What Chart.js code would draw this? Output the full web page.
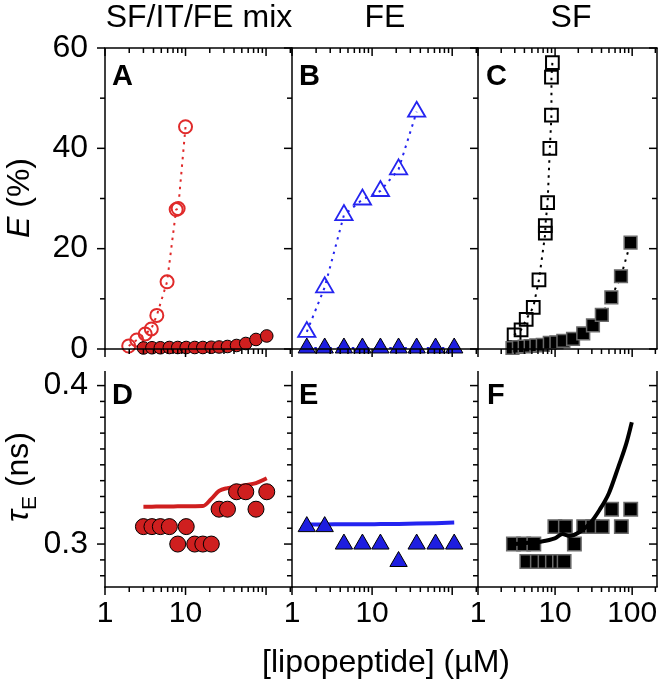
<!DOCTYPE html>
<html>
<head>
<meta charset="utf-8">
<script src="https://cdn.jsdelivr.net/npm/chart.js@4.4.1/dist/chart.umd.min.js"></script>
<style>
  body { margin: 0; background: #fff; }
  #wrap { position: relative; width: 668px; height: 680px; font-family: "Liberation Sans", Arial, sans-serif; color: #000; }
  #wrap canvas { position: absolute; left: 0; top: 0; }
  .t { position: absolute; white-space: nowrap; line-height: 1; }
  .rot { transform: translate(-50%, -50%) rotate(-90deg); }
  .ctr { transform: translateX(-50%); }
  .lbl { font-weight: bold; font-size: 29px; }
</style>
</head>
<body>
<div id="wrap">
  <canvas id="cA" width="668" height="680"></canvas>
  <canvas id="cB" width="668" height="680"></canvas>
  <canvas id="cC" width="668" height="680"></canvas>
  <canvas id="cD" width="668" height="680"></canvas>
  <canvas id="cE" width="668" height="680"></canvas>
  <canvas id="cF" width="668" height="680"></canvas>

  <div class="t ctr" style="left:199px;top:0px;font-size:32px">SF/IT/FE mix</div>
  <div class="t ctr" style="left:385px;top:0px;font-size:32px">FE</div>
  <div class="t ctr" style="left:571px;top:0px;font-size:32px">SF</div>

  <div class="t rot" style="left:18px;top:198px;font-size:32px"><i>E</i> (%)</div>
  <div class="t rot" style="left:20px;top:477px;font-size:32px"><i>τ</i><sub style="font-size:21px">E</sub> (ns)</div>
  <div class="t ctr" style="left:386px;top:645px;font-size:32px">[lipopeptide] (µM)</div>

  <div class="t lbl" style="left:112px;top:61px">A</div>
  <div class="t lbl" style="left:299px;top:61px">B</div>
  <div class="t lbl" style="left:486px;top:61px">C</div>
  <div class="t lbl" style="left:112px;top:380px">D</div>
  <div class="t lbl" style="left:299px;top:380px">E</div>
  <div class="t lbl" style="left:487px;top:380px">F</div>
</div>

<script>
// ---- data ----
// SF/IT/FE mix (panels A, D)
const mixOpenConc = [1.97, 2.48, 3.16, 3.76, 4.4, 5.9, 7.65, 8.1, 10.0];
const mixOpenE = [0.6, 1.8, 3.0, 4.0, 6.7, 13.4, 27.8, 28.0, 44.3];
const mixConc = [3.0, 3.83, 4.87, 6.3, 8.0, 10.2, 13.0, 16.4, 20.9, 26.1, 33.2, 43, 56, 75, 102];
const mixE = [0.2, 0.25, 0.25, 0.3, 0.3, 0.3, 0.3, 0.3, 0.35, 0.4, 0.5, 0.7, 1.1, 1.9, 2.6];
const mixTau = [0.311, 0.311, 0.311, 0.311, 0.300, 0.311, 0.300, 0.300, 0.300, 0.322, 0.322, 0.333, 0.333, 0.322, 0.333];
const mixTauFit = [0.3236, 0.3236, 0.3237, 0.3237, 0.3238, 0.3238, 0.3239, 0.324, 0.3285, 0.3335, 0.3353, 0.3363, 0.3372, 0.3385, 0.3415];

// FE (panels B, E)
const feConc = [1.53, 2.56, 4.45, 7.57, 12.7, 21.4, 36, 62, 106];
const feOpenE = [3.4, 12.3, 26.7, 29.8, 31.5, 35.8, 47.3];
const feE = [0.2, 0.2, 0.2, 0.2, 0.2, 0.2, 0.2, 0.2, 0.2];
const feTau = [0.311, 0.311, 0.300, 0.300, 0.300, 0.289, 0.300, 0.300, 0.300];
const feTauFit = [0.3124, 0.3124, 0.3125, 0.3125, 0.3126, 0.3127, 0.3129, 0.3132, 0.3136];

// SF (panels C, F)
const sfOpenConc = [2.94, 3.62, 4.22, 5.21, 6.18, 7.47, 7.47, 8.0, 8.55, 8.97, 8.97, 9.23];
const sfOpenE = [2.8, 3.8, 5.9, 8.3, 13.8, 23.1, 24.6, 29.2, 40.0, 46.6, 54.2, 57.1];
const sfConc = [2.8, 3.39, 4.03, 4.82, 5.72, 6.93, 8.54, 10.4, 12.8, 17.1, 23.2, 31, 40.4, 53.7, 71.6, 95.3];
const sfE = [0.2, 0.4, 0.5, 0.6, 0.7, 0.8, 1.2, 1.3, 1.6, 2.0, 3.1, 4.7, 6.8, 10.3, 14.5, 21.2];
const sfTauConc = [2.88, 3.91, 4.30, 5.30, 5.89, 7.41, 9.23, 9.94, 11.4, 13.1, 13.6, 17.8, 23.5, 30.7, 40.8, 54.1, 72.4, 95.8];
const sfTau = [0.300, 0.300, 0.289, 0.300, 0.289, 0.289, 0.289, 0.311, 0.289, 0.289, 0.311, 0.300, 0.311, 0.311, 0.311, 0.322, 0.311, 0.322];
const sfTauFitConc = [2.9, 4.5, 6.4, 9.9, 12.5, 15.1, 21.1, 28.4, 37.7, 49.9, 66.4, 84.2, 99];
const sfTauFit = [0.300, 0.3008, 0.3015, 0.3036, 0.3063, 0.3051, 0.3078, 0.3131, 0.3215, 0.3321, 0.3489, 0.3637, 0.3768];

// ticks
const xTickLabelsAB = [1, 10];
const xTickLabelsC = [1, 10, 100];
const eTicks = [0, 10, 20, 30, 40, 50, 60];
const eTickLabels = [0, 20, 40, 60];
const tauTicks = [0.28, 0.29, 0.30, 0.31, 0.32, 0.33, 0.34, 0.35, 0.36, 0.37, 0.38, 0.39, 0.40];
const tauTickLabels = [0.3, 0.4];

// ---- layout ----
const X_MAX = 210;
const Y_W = 60, X_H = 56;
const rows = { top: { t: 48, b: 349 }, bot: { t: 371, b: 587 } };
const cols = { A: { l: 105, r: 292 }, B: { l: 292, r: 478 }, C: { l: 478, r: 664 } };

const RED = '#cf1f1f', RED_OPEN = '#e02a2a', BLUE = '#1e1ee0', BLUE_OPEN = '#2424f0';
const FONT = 'Liberation Sans, Arial, sans-serif';

const pts = (xs, ys) => xs.map((x, i) => ({ x: x, y: ys[i] }));
const near = (v, list) => list.some(l => Math.abs(l - v) < 1e-6);

const logTicks = [];
[1, 10, 100].forEach(d => { for (let m = 1; m <= 9; m++) logTicks.push({ v: m * d, major: m === 1 }); });

const frame = {
  id: 'frame',
  afterDraw(chart, args, o) {
    const { ctx, chartArea: a, scales } = chart;
    const x = scales.x, y = scales.y;
    ctx.save();
    ctx.strokeStyle = '#000';
    ctx.lineWidth = 1.5;
    const seg = (x1, y1, x2, y2) => { ctx.beginPath(); ctx.moveTo(x1, y1); ctx.lineTo(x2, y2); ctx.stroke(); };
    seg(a.left, a.top, a.left, a.bottom + 0.75);
    seg(a.left - 0.75, a.bottom, a.right + 0.75, a.bottom);
    if (o.top) seg(a.left - 0.75, a.top, a.right + 0.75, a.top);
    if (o.right) seg(a.right, a.top, a.right, a.bottom);
    logTicks.forEach(t => {
      if (t.v < x.min || t.v > x.max) return;
      const px = x.getPixelForValue(t.v);
      const len = t.major ? 8 : 5;
      seg(px, a.bottom, px, a.bottom + len);
      if (o.top) seg(px, a.top, px, a.top + len);
    });
    o.yTicks.forEach(v => {
      const py = y.getPixelForValue(v);
      const len = near(v, o.yMajor) ? 8 : 5;
      seg(a.left - len, py, a.left, py);
      if (o.right) seg(a.right - len, py, a.right, py);
    });
    ctx.restore();
  }
};

function panel(id, col, row, cfg) {
  const c = cols[col], r = rows[row];
  const isTop = row === 'top';
  const yTicks = isTop ? eTicks : tauTicks;
  const yLabels = isTop ? eTickLabels : tauTickLabels;
  new Chart(document.getElementById(id), {
    type: 'scatter',
    data: { datasets: cfg.datasets },
    options: {
      responsive: false,
      animation: false,
      events: [],
      devicePixelRatio: 1,
      layout: { padding: { left: c.l - Y_W, right: 668 - c.r, top: r.t, bottom: 680 - r.b - X_H } },
      plugins: {
        legend: { display: false },
        tooltip: { enabled: false },
        frame: { top: isTop, right: col === 'C', yTicks: yTicks, yMajor: yLabels }
      },
      scales: {
        x: {
          type: 'logarithmic', min: 1, max: X_MAX,
          grid: { display: false, drawTicks: false }, border: { display: false },
          afterFit: s => { s.height = X_H; },
          ticks: {
            display: !isTop, autoSkip: false, maxRotation: 0, padding: 9, color: '#000',
            font: { family: FONT, size: 30 },
            callback: v => near(v, col === 'C' ? xTickLabelsC : xTickLabelsAB) ? String(v) : ''
          }
        },
        y: {
          type: 'linear',
          min: isTop ? 0 : 0.2729,
          max: isTop ? 60 : 0.4092,
          grid: { display: false, drawTicks: false }, border: { display: false },
          afterFit: s => { s.width = Y_W; },
          afterBuildTicks: s => { s.ticks = yTicks.map(v => ({ value: v })); },
          ticks: {
            display: col === 'A', autoSkip: false, padding: 17, color: '#000',
            font: { family: FONT, size: 32 },
            callback: v => near(v, yLabels) ? (isTop ? String(v) : v.toFixed(1)) : ''
          }
        }
      }
    },
    plugins: [frame]
  });
}

const dotted = (color) => ({ showLine: true, borderColor: color, borderWidth: 2, borderDash: [2.5, 5], clip: false });
const fit = (color) => ({ showLine: true, borderColor: color, borderWidth: 4, pointRadius: 0, cubicInterpolationMode: 'monotone', clip: false, order: 2 });

panel('cA', 'A', 'top', { datasets: [
  Object.assign(dotted(RED), { data: pts(mixConc, mixE), pointStyle: 'circle', pointRadius: 6.3, pointBackgroundColor: RED, pointBorderColor: '#000', pointBorderWidth: 1, order: 0 }),
  Object.assign(dotted(RED_OPEN), { data: pts(mixOpenConc, mixOpenE), pointStyle: 'circle', pointRadius: 6.5, pointBackgroundColor: 'rgba(0,0,0,0)', pointBorderColor: RED_OPEN, pointBorderWidth: 2, order: 1 })
]});

panel('cB', 'B', 'top', { datasets: [
  Object.assign(dotted(BLUE), { data: pts(feConc, feE), pointStyle: 'triangle', pointRadius: 10, pointBackgroundColor: BLUE, pointBorderColor: '#000', pointBorderWidth: 1, order: 0 }),
  Object.assign(dotted(BLUE_OPEN), { data: pts(feConc.slice(0, feOpenE.length), feOpenE), pointStyle: 'triangle', pointRadius: 10, pointBackgroundColor: 'rgba(0,0,0,0)', pointBorderColor: BLUE_OPEN, pointBorderWidth: 1.8, order: 1 })
]});

panel('cC', 'C', 'top', { datasets: [
  Object.assign(dotted('#000'), { data: pts(sfConc, sfE), pointStyle: 'rect', pointRadius: 9, pointBackgroundColor: '#000', pointBorderColor: '#6a6a6a', pointBorderWidth: 1.5, order: 0 }),
  Object.assign(dotted('#000'), { data: pts(sfOpenConc, sfOpenE), pointStyle: 'rect', pointRadius: 9, pointBackgroundColor: 'rgba(0,0,0,0)', pointBorderColor: '#000', pointBorderWidth: 2, order: 1 })
]});

panel('cD', 'A', 'bot', { datasets: [
  Object.assign(fit(RED), { data: pts(mixConc, mixTauFit) }),
  { data: pts(mixConc, mixTau), pointStyle: 'circle', pointRadius: 8, pointBackgroundColor: RED, pointBorderColor: '#000', pointBorderWidth: 1, clip: false, order: 0 }
]});

panel('cE', 'B', 'bot', { datasets: [
  Object.assign(fit(BLUE_OPEN), { data: pts(feConc, feTauFit) }),
  { data: pts(feConc, feTau), pointStyle: 'triangle', pointRadius: 10, pointBackgroundColor: BLUE, pointBorderColor: '#000', pointBorderWidth: 1, clip: false, order: 0 }
]});

panel('cF', 'C', 'bot', { datasets: [
  { data: pts(sfTauConc, sfTau), pointStyle: 'rect', pointRadius: 9.5, pointBackgroundColor: '#000', pointBorderColor: '#6a6a6a', pointBorderWidth: 1.5, clip: false, order: 2 },
  Object.assign(fit('#000'), { data: pts(sfTauFitConc, sfTauFit), order: 0 })
]});
</script>
</body>
</html>
